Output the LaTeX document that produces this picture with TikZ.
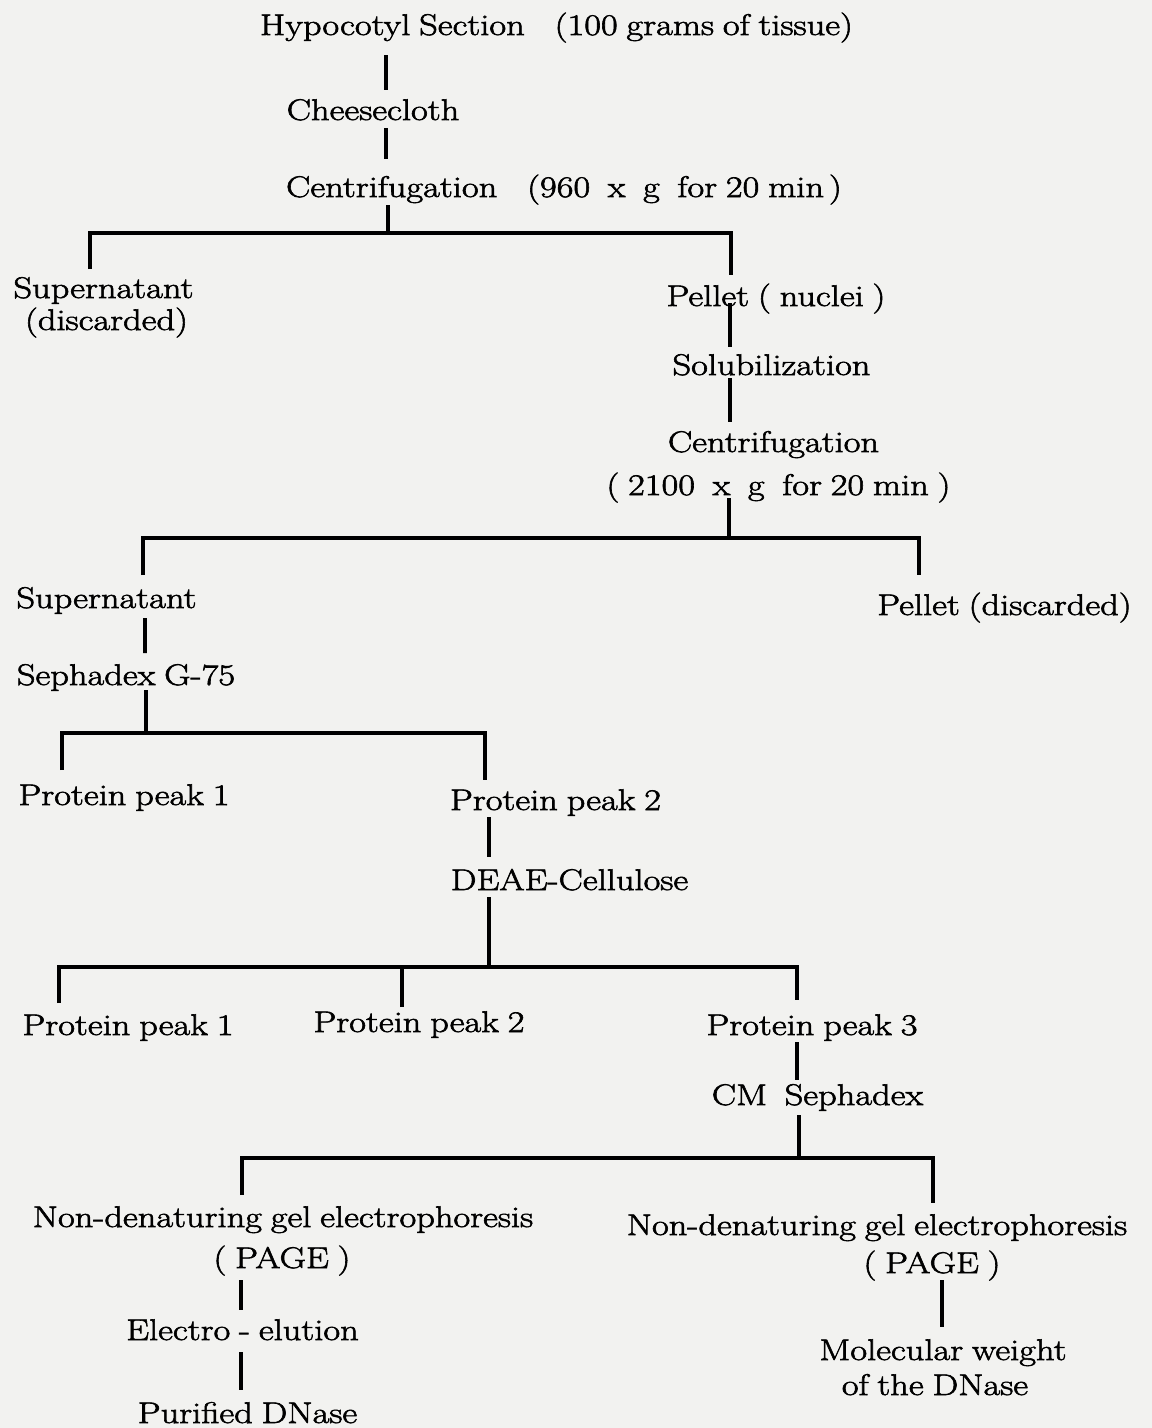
\documentclass[tikz,border=0pt]{standalone}
\usepackage{fontspec}
\setmainfont{Latin Modern Roman}[FakeStretch=1.22, FakeBold=2, WordSpace=0.8]
\usetikzlibrary{calc}
\definecolor{paper}{RGB}{242,242,240}
\begin{document}
\begin{tikzpicture}[x=0.02cm,y=-0.02cm,
  txt/.style={inner sep=0pt, anchor=base, font=\fontsize{17}{20}\selectfont},
  ln/.style={line width=2.2pt, line cap=butt, line join=miter}]
\fill[paper] (0,0) rectangle (1152,1428);
\useasboundingbox (0,0) rectangle (1152,1428);
% nodes
\node[txt] (title) at (556.5,35) {Hypocotyl Section\quad(100 grams of tissue)};
\node[txt] (cheese) at (373,120) {Cheesecloth};
\node[txt] (cent1) at (564,197) {Centrifugation\quad(960\ \ x\ \ g\ \ for 20 min\,)};
\node[txt] (sup1) at (103.5,298) {Supernatant};
\node[txt] (disc1) at (106.5,330) {(discarded)};
\node[txt] (pel1) at (776,306) {Pellet ( nuclei )};
\node[txt] (solub) at (771.5,375) {Solubilization};
\node[txt] (cent2) at (773.5,452) {Centrifugation};
\node[txt] (cond2) at (778.5,495) {( 2100\ \ x\ \ g\ \ for 20 min )};
\node[txt] (sup2) at (106.5,608) {Supernatant};
\node[txt] (pel2) at (1004.5,615) {Pellet (discarded)};
\node[txt] (seph) at (126,685) {Sephadex G-75};
\node[txt] (pp1a) at (124,805) {Protein peak 1};
\node[txt] (pp2a) at (555.5,810) {Protein peak 2};
\node[txt] (deae) at (569.5,890) {DEAE-Cellulose};
\node[txt] (pp1b) at (128,1035) {Protein peak 1};
\node[txt] (pp2b) at (419,1032) {Protein peak 2};
\node[txt] (pp3b) at (812,1035) {Protein peak 3};
\node[txt] (cm) at (817.5,1105) {CM\ \ Sephadex};
\node[txt] (nd1) at (283,1227) {Non-denaturing gel electrophoresis};
\node[txt] (page1) at (282,1268) {( PAGE )};
\node[txt] (elec) at (242.5,1340) {Electro - elution};
\node[txt] (puri) at (247.5,1423) {Purified DNase};
\node[txt] (nd2) at (877,1235) {Non-denaturing gel electrophoresis};
\node[txt] (page2) at (932,1273) {( PAGE )};
\node[txt] (mol) at (943,1360) {Molecular weight};
\node[txt] (ofdn) at (935,1395) {of the DNase};
% junctions
\coordinate (j1) at (388,233);
\coordinate (j2) at (729,538);
\coordinate (j3) at (146,733);
\coordinate (j4) at (489,967);
\coordinate (j5) at (799,1158);
\coordinate (p2t) at ($(pp2b.base)+(-17,-25)$);
% connectors
\draw[ln] ($(title.base)+(-170.5,20)$) -- ($(cheese.base)+(13,-30)$);
\draw[ln] ($(cheese.base)+(13,8)$) -- ($(cent1.base)+(-178,-38)$);
\draw[ln] ($(cent1.base)+(-176,8)$) -- (j1);
\draw[ln] ($(sup1.base)+(-13.5,-29)$) |- (j1) -| ($(pel1.base)+(-45,-31)$);
\draw[ln] ($(pel1.base)+(-46,-3)$) -- ($(solub.base)+(-41.5,-28)$);
\draw[ln] ($(solub.base)+(-41.5,3)$) -- ($(cent2.base)+(-43.5,-30)$);
\draw[ln] ($(cond2.base)+(-49.5,3)$) -- (j2);
\draw[ln] ($(sup2.base)+(36.5,-33)$) |- (j2) -| ($(pel2.base)+(-85.5,-40)$);
\draw[ln] ($(sup2.base)+(38.5,10)$) -- ($(seph.base)+(19,-32)$);
\draw[ln] ($(seph.base)+(20,5)$) -- (j3);
\draw[ln] ($(pp1a.base)+(-62,-35)$) |- (j3) -| ($(pp2a.base)+(-70.5,-30)$);
\draw[ln] ($(pp2a.base)+(-66.5,7)$) -- ($(deae.base)+(-80.5,-33)$);
\draw[ln] ($(deae.base)+(-80.5,7)$) -- (j4);
\draw[ln] ($(pp1b.base)+(-69,-32)$) |- (j4) -| ($(pp3b.base)+(-15,-35)$);
\draw[ln] (p2t) -- (p2t |- j4);
\draw[ln] ($(pp3b.base)+(-15,7)$) -- ($(cm.base)+(-20.5,-25)$);
\draw[ln] ($(cm.base)+(-18.5,10)$) -- (j5);
\draw[ln] ($(nd1.base)+(-41,-32)$) |- (j5) -| ($(nd2.base)+(56,-32)$);
\draw[ln] ($(page1.base)+(-41,12)$) -- ($(elec.base)+(-1.5,-30)$);
\draw[ln] ($(elec.base)+(-1.5,12)$) -- ($(puri.base)+(-6.5,-33)$);
\draw[ln] ($(page2.base)+(10,7)$) -- ($(mol.base)+(-1,-33)$);
\end{tikzpicture}
\end{document}
